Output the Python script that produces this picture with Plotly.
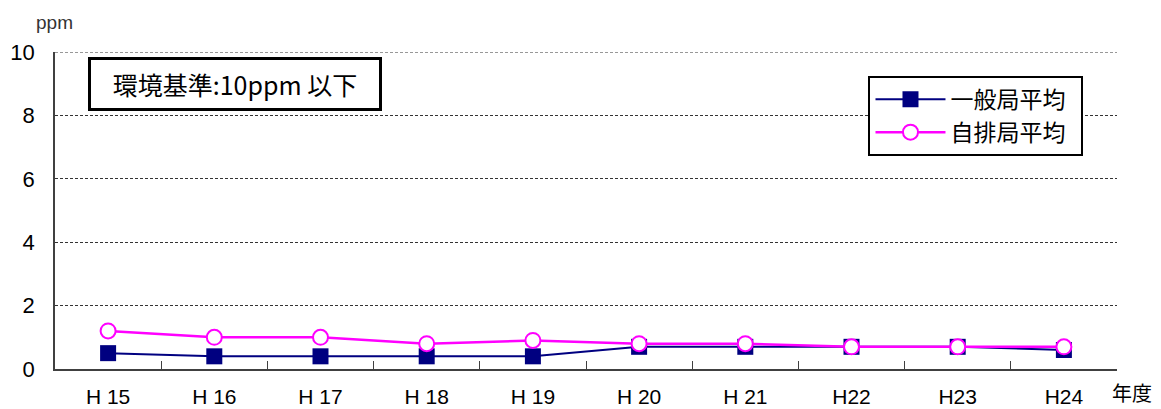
import plotly.graph_objects as go

years = ["H 15", "H 16", "H 17", "H 18", "H 19", "H 20", "H 21", "H22", "H23", "H24"]
general_avg = [0.5, 0.4, 0.4, 0.4, 0.4, 0.7, 0.7, 0.7, 0.7, 0.6]
roadside_avg = [1.2, 1.0, 1.0, 0.8, 0.9, 0.8, 0.8, 0.7, 0.7, 0.7]
y_ticks = [0, 2, 4, 6, 8, 10]

jp = "Noto Sans CJK JP"
num = "Liberation Sans, Arial, sans-serif"
pad = "\u00a0\u00a0"

# page body has an 8px margin; compensate so the plot area lands at x 55..1117, y 52..369
W, H = 1153, 401

fig = go.Figure()
fig.add_trace(go.Scatter(
    x=years, y=general_avg, name="一般局平均" + pad, mode="lines+markers",
    line=dict(color="#000080", width=2),
    marker=dict(symbol="square", size=16, color="#000080"),
))
fig.add_trace(go.Scatter(
    x=years, y=roadside_avg, name="自排局平均" + pad, mode="lines+markers",
    line=dict(color="#FF00FF", width=2.5),
    marker=dict(symbol="circle", size=15, color="white", line=dict(color="#FF00FF", width=2)),
))

fig.update_layout(
    width=W, height=H,
    margin=dict(l=47, r=44, t=44, b=40),
    paper_bgcolor="white", plot_bgcolor="white",
    font=dict(family=num, size=20, color="black"),
    legend=dict(
        x=0.766, y=0.925, xanchor="left", yanchor="top",
        bordercolor="black", borderwidth=2, bgcolor="white",
        font=dict(family=jp, size=23),
        tracegroupgap=0, itemwidth=70,
    ),
    xaxis=dict(
        type="category", tickson="boundaries", ticks="inside", ticklen=8,
        tickcolor="#404040", showgrid=False, automargin=False,
        showline=True, linecolor="#404040", linewidth=1.5,
        range=[-0.5, 9.5], tickfont=dict(family=num, size=21), ticklabelstandoff=8,
    ),
    yaxis=dict(
        range=[0, 10], tickvals=y_ticks, ticks="", automargin=False,
        showgrid=True, gridcolor="#333333", griddash="3px,2px", gridwidth=1,
        showline=True, linecolor="#404040", linewidth=1.5,
        zeroline=False, tickfont=dict(family=num, size=22), ticklabelstandoff=14,
    ),
    showlegend=True,
)

fig.add_shape(type="line", xref="paper", yref="y", x0=0, x1=1, y0=10, y1=10,
              line=dict(color="#333333", width=1, dash="3px,2px"))

fig.add_annotation(
    xref="paper", yref="paper", x=0.031, y=0.985, xanchor="left", yanchor="top",
    text="環境基準:10ppm 以下", showarrow=False,
    font=dict(family=jp, size=25, color="black"),
    width=284, height=44, align="center", valign="middle",
    bordercolor="black", borderwidth=3, borderpad=2, bgcolor="white",
)
fig.add_annotation(
    xref="paper", yref="paper", x=0.019, y=1.055, xanchor="right", yanchor="bottom",
    text="ppm", showarrow=False, font=dict(family=num, size=19, color="#333333"),
)
fig.add_annotation(
    xref="paper", yref="paper", x=0.993, y=-0.022, xanchor="left", yanchor="top",
    text="年度", showarrow=False, font=dict(family=jp, size=20, color="black"),
)

fig.write_html("out.html")
